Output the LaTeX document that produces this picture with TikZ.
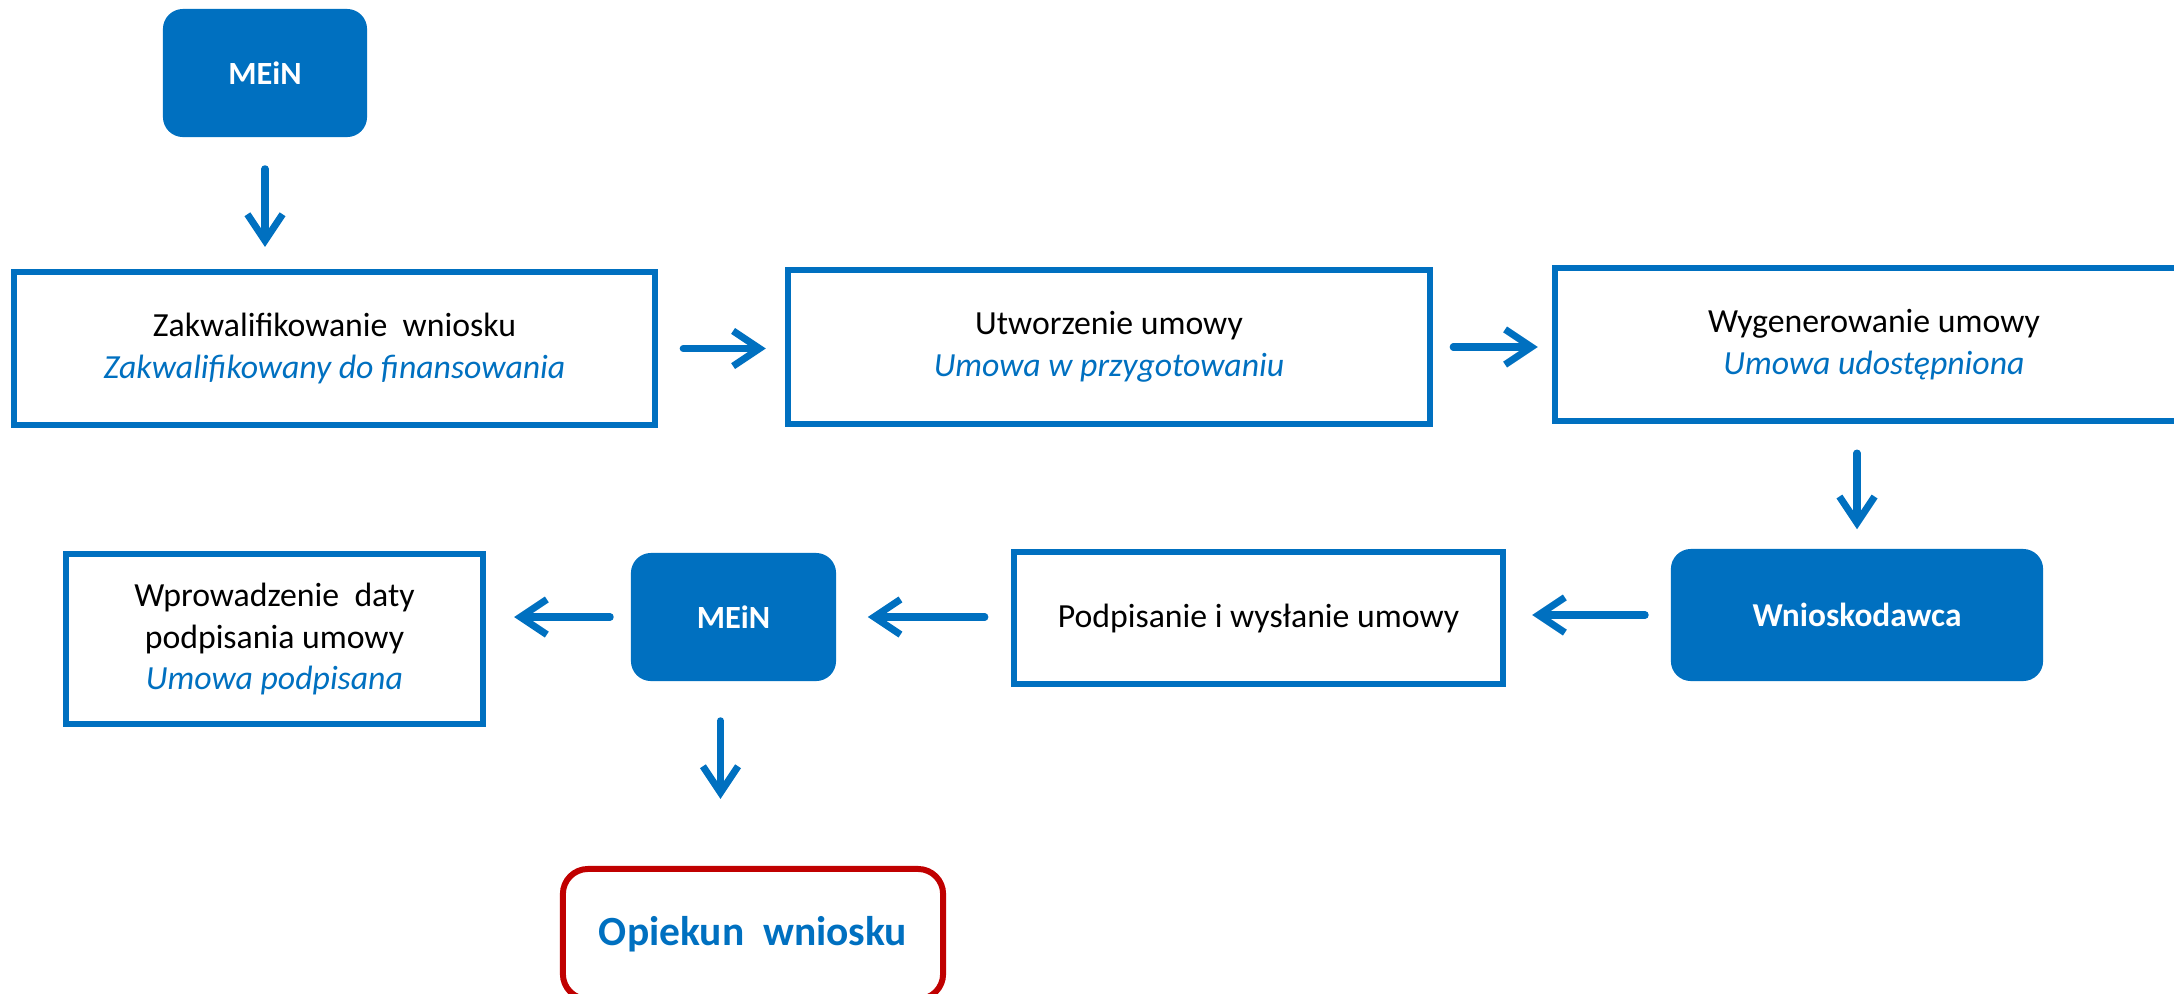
\documentclass[tikz,border=0pt]{standalone}
\usepackage{fontspec}
\setmainfont{Carlito}
\usetikzlibrary{arrows.meta}
\definecolor{myblue}{HTML}{0070C0}
\definecolor{myred}{HTML}{C00000}
\begin{document}
\begin{tikzpicture}[x=0.01cm,y=-0.01cm,
  stepbox/.style={draw=myblue, line width=1.7pt, fill=white, align=center, inner sep=0pt, font=\fontsize{9.6}{11.9}\selectfont},
  actor/.style={fill=myblue, rounded corners=0.2cm, text=white, align=center, inner sep=0pt, font=\bfseries\fontsize{9.2}{11}\selectfont},
  carer/.style={draw=myred, line width=1.7pt, rounded corners=0.25cm, text=myblue, align=center, inner sep=0pt, font=\bfseries\fontsize{11.8}{14}\selectfont},
  arr/.style={draw=myblue, line width=2pt, line cap=round, -{Straight Barb[length=7.5pt,width=10pt]}}]
\clip (0,0) rectangle (2174,993);
% nodes
\node[actor, minimum width=2.04cm, minimum height=1.28cm] (mein1) at (265,73) {MEiN};
\node[stepbox, minimum width=6.41cm, minimum height=1.53cm] (b1) at (334.5,348.5)
  {Zakwalifikowanie\ \ wniosku\\{\color{myblue}\itshape Zakwalifikowany do finansowania}};
\node[stepbox, minimum width=6.42cm, minimum height=1.54cm] (b2) at (1109,347)
  {Utworzenie umowy\\{\color{myblue}\itshape Umowa w przygotowaniu}};
\node[stepbox, minimum width=6.38cm, minimum height=1.53cm] (b3) at (1874,344.5)
  {Wygenerowanie\ umowy\\{\color{myblue}\itshape Umowa udostępniona}};
\node[actor, minimum width=3.72cm, minimum height=1.32cm, font=\bfseries\fontsize{9.5}{11}\selectfont] (wn) at (1857,615) {Wnioskodawca};
\node[stepbox, minimum width=4.89cm, minimum height=1.32cm] (podp) at (1258.5,618)
  {Podpisanie i wysłanie umowy};
\node[actor, minimum width=2.05cm, minimum height=1.28cm] (mein2) at (733.5,617) {MEiN};
\node[stepbox, minimum width=4.17cm, minimum height=1.70cm] (wpr) at (274.5,639)
  {Wprowadzenie\ \ daty\\podpisania umowy\\{\color{myblue}\itshape Umowa podpisana}};
\node[carer, minimum width=3.80cm, minimum height=1.30cm] (op) at (753,934) {Opiekun\ \ wniosku};
\coordinate (m2s) at ([xshift=-0.13cm]mein2.south);
% connectors
\draw[arr, shorten <=0.31cm, shorten >=0.22cm] (mein1.south) -- (mein1.south |- b1.north);
\draw[arr, shorten <=0.25cm, shorten >=0.19cm] (b1.east) -- (b1.east -| b2.west);
\draw[arr, shorten <=0.20cm, shorten >=0.14cm] (b2.east) -- (b2.east -| b3.west);
\draw[arr, shorten <=0.29cm, shorten >=0.19cm] (b3.south -| wn.north) -- (wn.north);
\draw[arr, shorten <=0.25cm, shorten >=0.26cm] (wn.west) -- (wn.west -| podp.east);
\draw[arr, shorten <=0.26cm, shorten >=0.31cm] (podp.west |- mein2.east) -- (mein2.east);
\draw[arr, shorten <=0.20cm, shorten >=0.28cm] (mein2.west) -- (mein2.west -| wpr.east);
\draw[arr, shorten <=0.39cm, shorten >=0.67cm] (m2s) -- (m2s |- op.north);
\end{tikzpicture}
\end{document}
